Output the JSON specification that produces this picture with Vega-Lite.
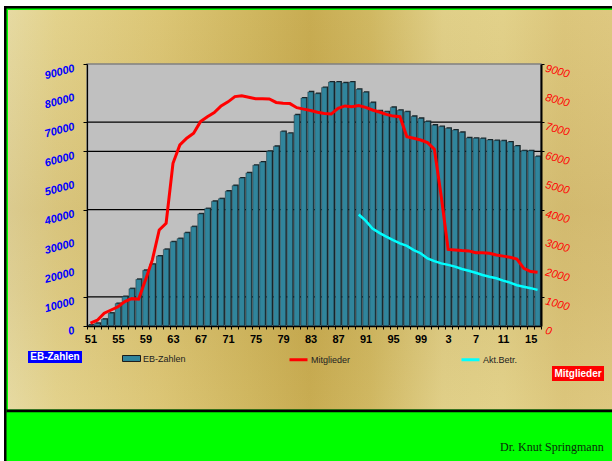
{
  "$schema": "https://vega.github.io/schema/vega-lite/v6.json",
  "width": 454,
  "height": 262,
  "autosize": {"type": "none"},
  "padding": {"left": 87, "top": 64, "right": 71, "bottom": 135},
  "background": "#FFFFFF",
  "config": {
    "font": "Liberation Sans",
    "view": {"stroke": null},
    "axis": {"labelOverlap": false, "labelFlush": false, "labelBound": false}
  },
  "data": {"values": [
    {"year": 1951, "eb": 300, "mit": 100, "akt": null},
    {"year": 1952, "eb": 900, "mit": 200, "akt": null},
    {"year": 1953, "eb": 2300, "mit": 440, "akt": null},
    {"year": 1954, "eb": 4400, "mit": 550, "akt": null},
    {"year": 1955, "eb": 7700, "mit": 660, "akt": null},
    {"year": 1956, "eb": 10100, "mit": 840, "akt": null},
    {"year": 1957, "eb": 12800, "mit": 940, "akt": null},
    {"year": 1958, "eb": 16000, "mit": 920, "akt": null},
    {"year": 1959, "eb": 19100, "mit": 1580, "akt": null},
    {"year": 1960, "eb": 21200, "mit": 2270, "akt": null},
    {"year": 1961, "eb": 24000, "mit": 3300, "akt": null},
    {"year": 1962, "eb": 26300, "mit": 3530, "akt": null},
    {"year": 1963, "eb": 28900, "mit": 5590, "akt": null},
    {"year": 1964, "eb": 30000, "mit": 6220, "akt": null},
    {"year": 1965, "eb": 32000, "mit": 6450, "akt": null},
    {"year": 1966, "eb": 34100, "mit": 6620, "akt": null},
    {"year": 1967, "eb": 38500, "mit": 7020, "akt": null},
    {"year": 1968, "eb": 40300, "mit": 7190, "akt": null},
    {"year": 1969, "eb": 42800, "mit": 7330, "akt": null},
    {"year": 1970, "eb": 43700, "mit": 7560, "akt": null},
    {"year": 1971, "eb": 46300, "mit": 7700, "akt": null},
    {"year": 1972, "eb": 48200, "mit": 7880, "akt": null},
    {"year": 1973, "eb": 50800, "mit": 7910, "akt": null},
    {"year": 1974, "eb": 52600, "mit": 7860, "akt": null},
    {"year": 1975, "eb": 55200, "mit": 7810, "akt": null},
    {"year": 1976, "eb": 56300, "mit": 7810, "akt": null},
    {"year": 1977, "eb": 60000, "mit": 7800, "akt": null},
    {"year": 1978, "eb": 61700, "mit": 7680, "akt": null},
    {"year": 1979, "eb": 66800, "mit": 7650, "akt": null},
    {"year": 1980, "eb": 66200, "mit": 7640, "akt": null},
    {"year": 1981, "eb": 72500, "mit": 7500, "akt": null},
    {"year": 1982, "eb": 78300, "mit": 7450, "akt": null},
    {"year": 1983, "eb": 80400, "mit": 7400, "akt": null},
    {"year": 1984, "eb": 79800, "mit": 7340, "akt": null},
    {"year": 1985, "eb": 81900, "mit": 7300, "akt": null},
    {"year": 1986, "eb": 83800, "mit": 7280, "akt": null},
    {"year": 1987, "eb": 83800, "mit": 7480, "akt": null},
    {"year": 1988, "eb": 83500, "mit": 7560, "akt": null},
    {"year": 1989, "eb": 83800, "mit": 7530, "akt": null},
    {"year": 1990, "eb": 81300, "mit": 7570, "akt": 3830},
    {"year": 1991, "eb": 80300, "mit": 7510, "akt": 3620},
    {"year": 1992, "eb": 76700, "mit": 7420, "akt": 3350},
    {"year": 1993, "eb": 73900, "mit": 7350, "akt": 3200},
    {"year": 1994, "eb": 73600, "mit": 7270, "akt": 3070},
    {"year": 1995, "eb": 75100, "mit": 7210, "akt": 2950},
    {"year": 1996, "eb": 74100, "mit": 7190, "akt": 2840},
    {"year": 1997, "eb": 73600, "mit": 6500, "akt": 2750},
    {"year": 1998, "eb": 72000, "mit": 6450, "akt": 2610},
    {"year": 1999, "eb": 71300, "mit": 6390, "akt": 2500},
    {"year": 2000, "eb": 70200, "mit": 6300, "akt": 2320},
    {"year": 2001, "eb": 69000, "mit": 6070, "akt": 2230},
    {"year": 2002, "eb": 68500, "mit": 4450, "akt": 2150},
    {"year": 2003, "eb": 67900, "mit": 2630, "akt": 2100},
    {"year": 2004, "eb": 67300, "mit": 2610, "akt": 2040},
    {"year": 2005, "eb": 66500, "mit": 2590, "akt": 1960},
    {"year": 2006, "eb": 64600, "mit": 2580, "akt": 1900},
    {"year": 2007, "eb": 64500, "mit": 2520, "akt": 1830},
    {"year": 2008, "eb": 64400, "mit": 2520, "akt": 1750},
    {"year": 2009, "eb": 63900, "mit": 2500, "akt": 1690},
    {"year": 2010, "eb": 63700, "mit": 2440, "akt": 1640},
    {"year": 2011, "eb": 63600, "mit": 2400, "akt": 1560},
    {"year": 2012, "eb": 63200, "mit": 2360, "akt": 1490},
    {"year": 2013, "eb": 61800, "mit": 2300, "akt": 1400},
    {"year": 2014, "eb": 60200, "mit": 1980, "akt": 1350},
    {"year": 2015, "eb": 60200, "mit": 1870, "akt": 1300},
    {"year": 2016, "eb": 58200, "mit": 1850, "akt": 1240}
  ]},
  "layer": [
    {
      "layer": [
        {
          "data": {"values": [{}]},
          "mark": {"type": "rect", "color": "#000000"},
          "encoding": {
            "x": {"datum": 1938.434, "type": "quantitative", "axis": null, "scale": {"domain": [1950.5, 2016.5], "nice": false, "zero": false, "padding": 0}}, "x2": {"datum": 2026.822},
            "y": {"datum": 109923, "type": "quantitative", "axis": null, "scale": {"domain": [0, 90000], "nice": false}}, "y2": {"datum": -46374}
          }
        },
        {
          "data": {"values": [{}]},
          "mark": {"type": "rect", "color": "#00FF00"},
          "encoding": {
            "x": {"datum": 1938.797, "type": "quantitative", "axis": null}, "x2": {"datum": 2026.822},
            "y": {"datum": 109065, "type": "quantitative", "axis": null}, "y2": {"datum": -46374}
          }
        },
        {
          "data": {"values": [{}]},
          "mark": {"type": "rect", "fill": {"gradient": "linear", "x1": 0, "y1": 0, "x2": 1, "y2": 0, "stops": [
            {"offset": 0, "color": "#E6DAA2"},
            {"offset": 0.08, "color": "#E3D28C"},
            {"offset": 0.25, "color": "#DCC676"},
            {"offset": 0.4, "color": "#D0B760"},
            {"offset": 0.5, "color": "#C8AC52"},
            {"offset": 0.6, "color": "#D0B862"},
            {"offset": 0.72, "color": "#E0CF88"},
            {"offset": 0.82, "color": "#E2D18A"},
            {"offset": 0.92, "color": "#DCC67C"},
            {"offset": 1, "color": "#DEC880"}
          ]}},
          "encoding": {
            "x": {"datum": 1939.015, "type": "quantitative", "axis": null}, "x2": {"datum": 2026.822},
            "y": {"datum": 108549, "type": "quantitative", "axis": null}, "y2": {"datum": -28683}
          }
        },
        {
          "data": {"values": [{}]},
          "mark": {"type": "rect", "fill": {"gradient": "linear", "x1": 0, "y1": 0, "x2": 0, "y2": 1, "stops": [
            {"offset": 0, "color": "rgba(150,110,30,0)"},
            {"offset": 0.5, "color": "rgba(150,110,30,0.14)"},
            {"offset": 0.7, "color": "rgba(150,110,30,0.1)"},
            {"offset": 1, "color": "rgba(150,110,30,0)"}
          ]}},
          "encoding": {
            "x": {"datum": 1939.015, "type": "quantitative", "axis": null}, "x2": {"datum": 2026.822},
            "y": {"datum": 108549, "type": "quantitative", "axis": null}, "y2": {"datum": -28683}
          }
        },
        {
          "data": {"values": [{}]},
          "mark": {"type": "rect", "color": "#000000"},
          "encoding": {
            "x": {"datum": 1938.797, "type": "quantitative", "axis": null}, "x2": {"datum": 2026.822},
            "y": {"datum": -28683, "type": "quantitative", "axis": null}, "y2": {"datum": -29714}
          }
        },
        {
          "data": {"values": [{}]},
          "mark": {"type": "rect", "color": "#00FF00"},
          "encoding": {
            "x": {"datum": 1938.870, "type": "quantitative", "axis": null}, "x2": {"datum": 2026.822},
            "y": {"datum": -29714, "type": "quantitative", "axis": null}, "y2": {"datum": -46374}
          }
        },
        {
          "data": {"values": [{}]},
          "mark": {"type": "rect", "color": "#C0C0C0", "stroke": "#808080", "strokeWidth": 1.5},
          "encoding": {
            "x": {"datum": 1950.5, "type": "quantitative", "axis": null}, "x2": {"datum": 2016.5},
            "y": {"datum": 0, "type": "quantitative", "axis": null}, "y2": {"datum": 90000}
          }
        },
        {
          "data": {"values": [{"grid": 10000}, {"grid": 40000}, {"grid": 60000}, {"grid": 70000}]},
          "mark": {"type": "rule", "color": "#000000", "strokeWidth": 1.2},
          "encoding": {"y": {"field": "grid", "type": "quantitative", "axis": null}}
        },
        {
          "mark": {"type": "bar", "width": 5.4, "color": "#182428", "xOffset": 1.1, "yOffset": -1.1},
          "encoding": {
            "x": {"field": "year", "type": "quantitative", "axis": null},
            "y": {"field": "eb", "type": "quantitative", "axis": null}
          }
        },
        {
          "data": {"values": [{}]},
          "mark": {"type": "rect", "color": "#0000FF"},
          "encoding": {
            "x": {"datum": 1941.923, "type": "quantitative", "axis": null}, "x2": {"datum": 1949.773},
            "y": {"datum": -8588, "type": "quantitative", "axis": null}, "y2": {"datum": -12710}
          }
        },
        {
          "data": {"values": [{}]},
          "mark": {"type": "text", "text": "EB-Zahlen", "color": "#FFFFFF", "fontWeight": "bold", "fontSize": 10, "align": "center", "baseline": "middle"},
          "encoding": {
            "x": {"datum": 1945.848, "type": "quantitative", "axis": null},
            "y": {"datum": -10649, "type": "quantitative", "axis": null}
          }
        },
        {
          "data": {"values": [{}]},
          "mark": {"type": "rect", "color": "#FF0000"},
          "encoding": {
            "x": {"datum": 2018.099, "type": "quantitative", "axis": null}, "x2": {"datum": 2025.659},
            "y": {"datum": -13740, "type": "quantitative", "axis": null}, "y2": {"datum": -18893}
          }
        },
        {
          "data": {"values": [{}]},
          "mark": {"type": "text", "text": "Mitglieder", "color": "#FFFFFF", "fontWeight": "bold", "fontSize": 10, "align": "center", "baseline": "middle"},
          "encoding": {
            "x": {"datum": 2021.879, "type": "quantitative", "axis": null},
            "y": {"datum": -16317, "type": "quantitative", "axis": null}
          }
        },
        {
          "data": {"values": [{}]},
          "mark": {"type": "text", "text": "Dr. Knut Springmann", "color": "#0b2b0b", "font": "Liberation Serif", "fontSize": 12, "align": "left", "baseline": "alphabetic"},
          "encoding": {
            "x": {"datum": 2010.54, "type": "quantitative", "axis": null},
            "y": {"datum": -42939, "type": "quantitative", "axis": null}
          }
        }
      ]
    },
    {
      "mark": {"type": "bar", "width": 5.4, "stroke": "#1d3138", "strokeWidth": 0.5},
      "encoding": {
        "x": {
          "field": "year", "type": "quantitative",
          "scale": {"domain": [1950.5, 2016.5], "nice": false, "zero": false, "padding": 0},
          "axis": {
            "title": null, "zindex": 1, "grid": false,
            "values": [1950.5,1951,1951.5,1952.5,1953.5,1954.5,1955,1955.5,1956.5,1957.5,1958.5,1959,1959.5,1960.5,1961.5,1962.5,1963,1963.5,1964.5,1965.5,1966.5,1967,1967.5,1968.5,1969.5,1970.5,1971,1971.5,1972.5,1973.5,1974.5,1975,1975.5,1976.5,1977.5,1978.5,1979,1979.5,1980.5,1981.5,1982.5,1983,1983.5,1984.5,1985.5,1986.5,1987,1987.5,1988.5,1989.5,1990.5,1991,1991.5,1992.5,1993.5,1994.5,1995,1995.5,1996.5,1997.5,1998.5,1999,1999.5,2000.5,2001.5,2002.5,2003,2003.5,2004.5,2005.5,2006.5,2007,2007.5,2008.5,2009.5,2010.5,2011,2011.5,2012.5,2013.5,2014.5,2015,2015.5,2016.5],
            "labelExpr": "datum.value % 1 === 0 ? '' + (datum.value % 100) : ''",
            "tickOpacity": {"condition": {"test": "datum.value % 1 !== 0", "value": 1}, "value": 0},
            "tickColor": "#000000", "tickSize": 3,
            "domainColor": "#000000", "domainWidth": 1.5,
            "labelFontWeight": "bold", "labelFontSize": 11, "labelColor": "#000000",
            "labelPadding": 4, "labelOverlap": false, "labelFlush": false
          }
        },
        "y": {
          "field": "eb", "type": "quantitative",
          "scale": {"domain": [0, 90000], "nice": false},
          "axis": {
            "orient": "left", "title": null, "zindex": 1, "grid": false, "format": "d",
            "values": [0,10000,20000,30000,40000,50000,60000,70000,80000,90000],
            "labelColor": "#0000FF", "labelFontSize": 11, "labelFontWeight": "bold", "labelFontStyle": "italic",
            "labelAngle": -15, "labelAlign": "right", "labelBaseline": "middle", "labelPadding": 9, "labelOffset": 4,
            "tickSize": 4, "tickColor": "#000000",
            "tickOpacity": {"condition": {"test": "indexof([0,10000,40000,60000,70000,90000], datum.value) >= 0", "value": 1}, "value": 0},
            "domainColor": "#000000", "domainWidth": 1.2,
            "labelOverlap": false, "labelFlush": false
          }
        },
        "fill": {
          "datum": "EB-Zahlen",
          "scale": {"domain": ["EB-Zahlen"], "range": ["#30859C"]},
          "legend": {
            "orient": "none", "legendX": 35, "legendY": 285, "direction": "horizontal",
            "title": null, "padding": 0, "zindex": 1,
            "labelFont": "Liberation Sans", "labelFontSize": 9, "labelColor": "#222222", "labelOffset": 2,
            "symbolType": "M-1,-0.33H1V0.33H-1Z", "symbolSize": 324,
            "symbolStrokeColor": "#1a1a1a", "symbolStrokeWidth": 1
          }
        }
      }
    },
    {
      "layer": [
        {
          "mark": {"type": "line", "strokeWidth": 3},
          "encoding": {
            "x": {"field": "year", "type": "quantitative", "axis": null, "scale": {"domain": [1950.5, 2016.5], "nice": false, "zero": false, "padding": 0}},
            "y": {
              "field": "mit", "type": "quantitative",
              "scale": {"domain": [0, 9000], "nice": false},
              "axis": {
                "orient": "right", "title": null, "zindex": 1, "grid": false, "format": "d",
                "values": [0,1000,2000,3000,4000,5000,6000,7000,8000,9000],
                "labelColor": "#FF0000", "labelFontSize": 11, "labelFontStyle": "italic",
                "labelAngle": 15, "labelAlign": "left", "labelBaseline": "middle", "labelPadding": 1, "labelOffset": 4,
                "tickSize": 3, "tickColor": "#000000",
                "tickOpacity": {"condition": {"test": "indexof([1000,4000,6000,7000,9000], datum.value) >= 0", "value": 1}, "value": 0},
                "domainColor": "#000000", "domainWidth": 2,
                "labelOverlap": false, "labelFlush": false
              }
            },
            "stroke": {
              "datum": "Mitglieder",
              "scale": {"domain": ["Mitglieder", "Akt.Betr."], "range": ["#FF0000", "#00FFFF"]},
              "legend": {
                "orient": "none", "legendX": 201, "legendY": 285, "direction": "horizontal",
                "columns": 2, "columnPadding": 104, "title": null, "padding": 0, "zindex": 1,
                "labelFont": "Liberation Sans", "labelFontSize": 9, "labelColor": "#222222", "labelOffset": 2,
                "symbolType": "stroke", "symbolSize": 324, "symbolStrokeWidth": 3
              }
            }
          }
        },
        {
          "mark": {"type": "line", "strokeWidth": 2.5},
          "encoding": {
            "x": {"field": "year", "type": "quantitative", "axis": null},
            "y": {
              "field": "akt", "type": "quantitative",
              "axis": {
                "orient": "right", "title": null, "zindex": 1, "grid": false, "format": "d",
                "values": [0,1000,2000,3000,4000,5000,6000,7000,8000,9000],
                "labelColor": "#FF0000", "labelFontSize": 11, "labelFontStyle": "italic",
                "labelAngle": 15, "labelAlign": "left", "labelBaseline": "middle", "labelPadding": 1, "labelOffset": 4,
                "tickSize": 3, "tickColor": "#000000",
                "tickOpacity": {"condition": {"test": "indexof([1000,4000,6000,7000,9000], datum.value) >= 0", "value": 1}, "value": 0},
                "domainColor": "#000000", "domainWidth": 2,
                "labelOverlap": false, "labelFlush": false
              }
            },
            "stroke": {"datum": "Akt.Betr."}
          }
        }
      ]
    }
  ],
  "resolve": {
    "scale": {"x": "independent", "y": "independent"},
    "axis": {"x": "independent", "y": "independent"}
  }
}
